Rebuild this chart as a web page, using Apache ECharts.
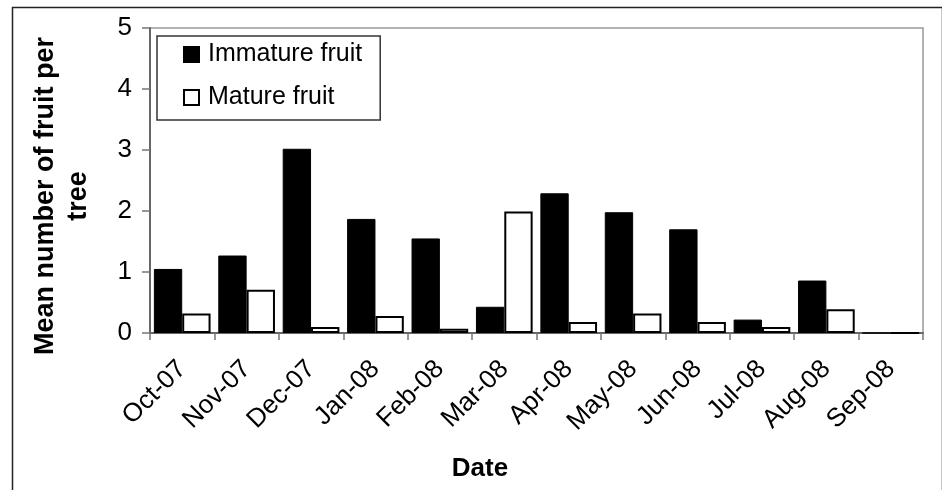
<!DOCTYPE html>
<html>
<head>
<meta charset="utf-8">
<script src="https://cdn.jsdelivr.net/npm/echarts@6/dist/echarts.min.js"></script>
<style>
  html, body { margin: 0; padding: 0; background: #fff; }
  #chart { width: 942px; height: 490px; }
</style>
</head>
<body>
<div id="chart"></div>
<script>
// data
const months = ['Oct-07', 'Nov-07', 'Dec-07', 'Jan-08', 'Feb-08', 'Mar-08',
                'Apr-08', 'May-08', 'Jun-08', 'Jul-08', 'Aug-08', 'Sep-08'];
const immature = [1.05, 1.27, 3.02, 1.87, 1.55, 0.43, 2.29, 1.98, 1.70, 0.22, 0.86, 0];
const mature = [0.32, 0.71, 0.10, 0.28, 0.07, 1.99, 0.18, 0.32, 0.18, 0.10, 0.39, 0];
const yTicks = [0, 1, 2, 3, 4, 5];

const font = 'Liberation Sans, Arial, sans-serif';
let myChart = echarts.init(document.getElementById('chart'));
myChart.setOption({
    animation: false,
    textStyle: { fontFamily: font },
    grid: {
        left: 150, right: 19, top: 28, bottom: 157,
        show: true, borderColor: '#999', borderWidth: 1.5
    },
    legend: {
        orient: 'vertical',
        left: 157, top: 36,
        padding: [6, 18, 10, 26],
        itemWidth: 15, itemHeight: 15,
        itemGap: 18,
        icon: 'rect',
        borderColor: '#333', borderWidth: 1.5,
        textStyle: { fontSize: 25, color: '#000', padding: [0, 0, 0, 4] },
        data: ['Immature fruit', 'Mature fruit']
    },
    xAxis: {
        type: 'category',
        data: months,
        axisLine: { lineStyle: { color: '#666', width: 2 } },
        axisTick: { show: true, length: 7, lineStyle: { color: '#777', width: 1.5 } },
        axisLabel: { rotate: 45, fontSize: 26, color: '#000', margin: 32, interval: 0 }
    },
    yAxis: {
        type: 'value',
        min: 0, max: yTicks[yTicks.length - 1], interval: 1,
        splitLine: { show: false },
        axisLine: { show: true, lineStyle: { color: '#666', width: 2 } },
        axisTick: { show: true, length: 8, lineStyle: { color: '#777', width: 1.5 } },
        axisLabel: { fontSize: 26, color: '#000', margin: 18 }
    },
    series: [
        {
            name: 'Immature fruit',
            type: 'bar',
            data: immature,
            barGap: '0%',
            barCategoryGap: '12%',
            itemStyle: { color: '#000', borderColor: '#000', borderWidth: 1 }
        },
        {
            name: 'Mature fruit',
            type: 'bar',
            data: mature,
            itemStyle: { color: '#fff', borderColor: '#000', borderWidth: 2 }
        }
    ],
    graphic: [
        // outer frame, bottom edge falls off the page
        {
            type: 'rect', left: 10, top: 5, z: -1,
            shape: { width: 930, height: 520 },
            style: { fill: 'none', stroke: '#222', lineWidth: 1.5 }
        },
        {
            type: 'text', x: 62, y: 196, rotation: Math.PI / 2,
            style: {
                text: 'Mean number of fruit per\ntree',
                font: 'bold 27px ' + font,
                lineHeight: 33,
                fill: '#000', align: 'center', verticalAlign: 'middle'
            }
        },
        {
            type: 'text', x: 480, y: 469,
            style: {
                text: 'Date',
                font: 'bold 26px ' + font,
                fill: '#000', align: 'center', verticalAlign: 'middle'
            }
        }
    ]
});
</script>
</body>
</html>
